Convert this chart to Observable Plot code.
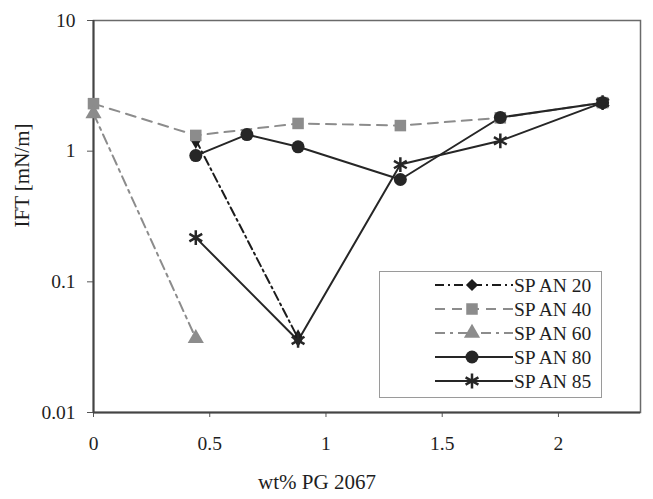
<!DOCTYPE html>
<html>
<head>
<meta charset="utf-8">
<script src="https://cdn.jsdelivr.net/npm/d3@7"></script>
<script src="https://cdn.jsdelivr.net/npm/@observablehq/plot@0.6"></script>
<style>
  html, body { margin: 0; padding: 0; background: #fff; }
  #wrap { position: relative; width: 653px; height: 499px; }
  #legend { position: absolute; left: 0; top: 0; }
</style>
</head>
<body>
<div id="wrap"></div>
<script>
// ---- data ----
const seriesNames = ["SP AN 20", "SP AN 40", "SP AN 60", "SP AN 80", "SP AN 85"];

const span20X = [0.44, 0.88];
const span20Y = [1.22, 0.037];

const span40X = [0, 0.44, 0.88, 1.32, 1.75, 2.19];
const span40Y = [2.31, 1.32, 1.63, 1.57, 1.8, 2.35];

const span60X = [0, 0.44];
const span60Y = [1.94, 0.037];

const span80X = [0.44, 0.66, 0.88, 1.32, 1.75, 2.19];
const span80Y = [0.925, 1.34, 1.08, 0.607, 1.81, 2.35];

const span85X = [0.44, 0.88, 1.32, 1.75, 2.19];
const span85Y = [0.218, 0.0356, 0.79, 1.2, 2.35];

const xTicks = [0, 0.5, 1, 1.5, 2];
const yTicks = [0.01, 0.1, 1, 10];
const xLabel = "wt% PG 2067";
const yLabel = "IFT [mN/m]";

// ---- styles ----
const colors = ["#1c1c1c", "#8c8c8c", "#8c8c8c", "#262626", "#262626"];
const dashes = ["9,4,2,4", "10,7", "10,5,3,5", null, null];
const symbols = ["diamond", "square", "triangle", "circle", "asterisk"];
const radii = [5.5, 6.5, 6, 6.5, 7];

const xs = [span20X, span40X, span60X, span80X, span85X];
const ys = [span20Y, span40Y, span60Y, span80Y, span85Y];
const series = seriesNames.map((name, i) =>
  xs[i].map((x, j) => ({series: name, x, y: ys[i][j]}))
);

const font = "'Liberation Serif', 'DejaVu Serif', serif";

const marks = [];
series.forEach((rows, i) => {
  marks.push(Plot.line(rows, {
    x: "x", y: "y", stroke: colors[i], strokeWidth: 2,
    strokeDasharray: dashes[i] || undefined
  }));
});
series.forEach((rows, i) => {
  const stroke = symbols[i] === "asterisk";
  marks.push(Plot.dot(rows, {
    x: "x", y: "y", symbol: () => symbols[i], r: radii[i],
    fill: stroke ? "none" : colors[i],
    stroke: stroke ? colors[i] : "none",
    strokeWidth: stroke ? 2.5 : 0
  }));
});

const chart = Plot.plot({
  width: 653,
  height: 499,
  marginLeft: 93,
  marginRight: 13,
  marginTop: 20,
  marginBottom: 87,
  style: {fontFamily: font, fontSize: "19px", background: "#fff", color: "#1e1e1e"},
  x: {domain: [0, 2.353]},
  y: {type: "log", domain: [0.01, 10]},
  marks: [
    Plot.frame({stroke: "#6a6a6a", strokeWidth: 1.5}),
    Plot.axisX({ticks: xTicks, tickSize: 5, tickPadding: 19, tickFormat: d => String(d),
      label: null, stroke: "#555", fontSize: 19.5}),
    Plot.axisY({ticks: yTicks, tickSize: 6, tickPadding: 12, tickFormat: d => String(d),
      label: null, stroke: "#555", fontSize: 19.5}),
    Plot.ruleX([0], {stroke: "#444", strokeWidth: 2}),
    Plot.ruleY([0.01], {stroke: "#444", strokeWidth: 2}),
    ...marks,
    Plot.text([xLabel], {frameAnchor: "bottom", dx: -50, dy: 76, fontSize: 21, fill: "#1e1e1e"}),
    Plot.text([yLabel], {frameAnchor: "left", rotate: -90, dx: -71, dy: 11, fontSize: 21, fill: "#1e1e1e"})
  ]
});
document.getElementById("wrap").appendChild(chart);

// ---- legend (overlay inside the plot area) ----
const lg = d3.select("#wrap").append("svg")
  .attr("id", "legend").attr("width", 653).attr("height", 499)
  .style("font-family", font);
lg.append("rect").attr("x", 379.5).attr("y", 271.5).attr("width", 222).attr("height", 126)
  .attr("fill", "#fff").attr("stroke", "#9a9a9a").attr("stroke-width", 1);
const rowY = [285, 309, 333, 357, 381];
const symMap = {
  diamond: d3.symbolDiamond2, square: d3.symbolSquare, triangle: d3.symbolTriangle,
  circle: d3.symbolCircle, asterisk: d3.symbolAsterisk
};
seriesNames.forEach((name, i) => {
  const y = rowY[i];
  lg.append("line").attr("x1", 435).attr("x2", 513).attr("y1", y).attr("y2", y)
    .attr("stroke", colors[i]).attr("stroke-width", 2)
    .attr("stroke-dasharray", dashes[i] || null);
  const isStroke = symbols[i] === "asterisk";
  lg.append("path")
    .attr("transform", `translate(472,${y})`)
    .attr("d", d3.symbol(symMap[symbols[i]], Math.PI * radii[i] * radii[i])())
    .attr("fill", isStroke ? "none" : colors[i])
    .attr("stroke", isStroke ? colors[i] : "none")
    .attr("stroke-width", isStroke ? 2.5 : 0);
  lg.append("text").attr("x", 514).attr("y", y).attr("dy", "0.35em")
    .attr("font-size", 19.5).attr("fill", "#1e1e1e").text(name);
});
</script>
</body>
</html>
